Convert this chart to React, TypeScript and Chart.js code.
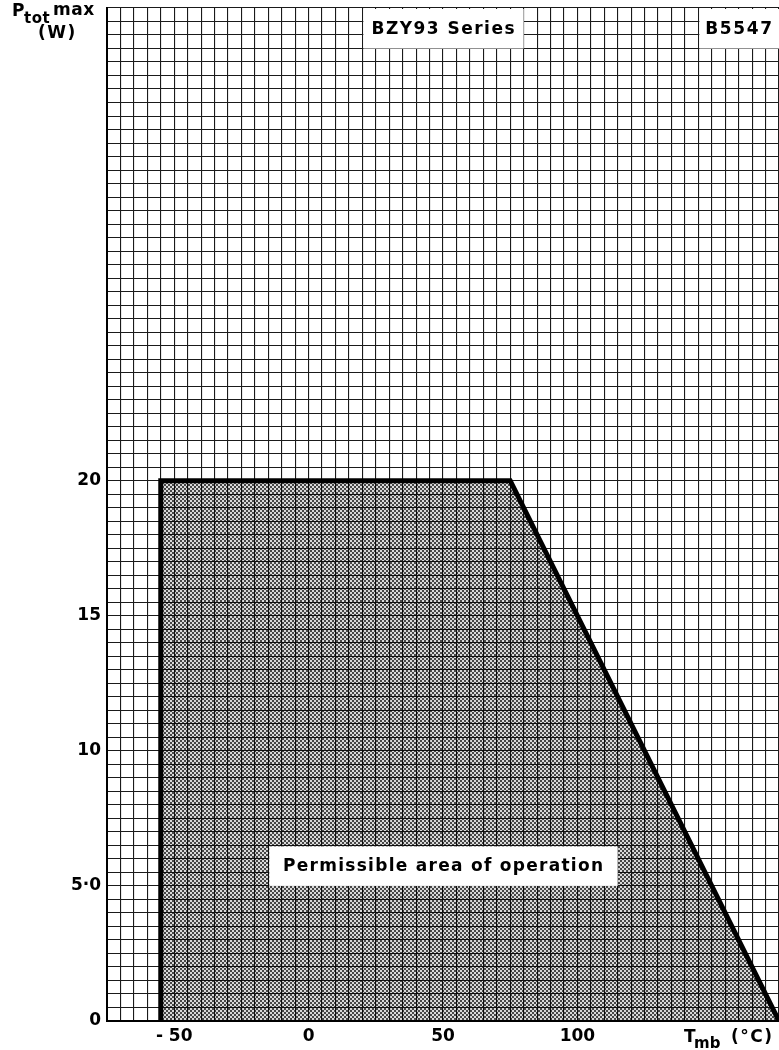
import { useEffect, useRef } from "react";
import { Chart, registerables } from "chart.js";

Chart.register(...registerables);

// Derating curve: mounting-base temperature (°C) vs max total power (W)
const tempC = [-55, -55, 75, 175];
const powerW = [0, 20, 20, 0];

// Axis ranges and tick labels
const xRange = [-75, 175];
const yRange = [0, 37.5];
const xLabelValues = [-50, 0, 50, 100];
const xLabelTexts = ["- 50", "0", "50", "100"];
const yLabelValues = [0, 5, 10, 15, 20];
const yLabelTexts = ["0", "5·0", "10", "15", "20"];

// Text boxes (data coords: x1, x2, y1, y2)
const boxTexts = ["BZY93 Series", "B5547", "Permissible area of operation"];
const boxX1 = [20, 145, -15];
const boxX2 = [80, 175, 115];
const boxY1 = [36, 36, 5];
const boxY2 = [37.5, 37.5, 6.5];
const boxTextWidths = [143, 67, 320];

const FONT = "'DejaVu Sans'";

function fitText(ctx: CanvasRenderingContext2D, text: string, cx: number, cy: number, target: number, size: number) {
  ctx.font = `bold ${size}px ${FONT}`;
  (ctx as any).letterSpacing = "0px";
  const w = ctx.measureText(text).width;
  const n = Math.max(1, text.length - 1);
  const ls = (target - w) / n;
  (ctx as any).letterSpacing = `${ls}px`;
  ctx.textAlign = "left";
  ctx.textBaseline = "middle";
  ctx.fillText(text, cx - target / 2, cy);
  (ctx as any).letterSpacing = "0px";
}

const overlayPlugin = {
  id: "overlay",
  afterDatasetsDraw(chart: any) {
    const ctx: CanvasRenderingContext2D = chart.ctx;
    const xs = chart.scales.x;
    const ys = chart.scales.y;
    ctx.save();
    for (let i = 0; i < boxTexts.length; i++) {
      const l = xs.getPixelForValue(boxX1[i]);
      const r = xs.getPixelForValue(boxX2[i]);
      const t = ys.getPixelForValue(boxY2[i]);
      const b = ys.getPixelForValue(boxY1[i]);
      ctx.fillStyle = "#ffffff";
      ctx.fillRect(l + 1, t + 1, r - l - 1, b - t - 1);
      ctx.fillStyle = "#000000";
      fitText(ctx, boxTexts[i], (l + r) / 2, (t + b) / 2 + 1, boxTextWidths[i], 17);
    }
    ctx.restore();
  },
  afterDraw(chart: any) {
    const ctx: CanvasRenderingContext2D = chart.ctx;
    ctx.save();
    ctx.fillStyle = "#000";
    ctx.textAlign = "left";
    ctx.textBaseline = "alphabetic";
    // Y axis title: P_tot max (W)
    ctx.font = `bold 17px ${FONT}`;
    ctx.fillText("P", 12, 16);
    ctx.font = `bold 15px ${FONT}`;
    (ctx as any).letterSpacing = "0.5px";
    ctx.fillText("tot", 24, 23);
    ctx.font = `bold 17px ${FONT}`;
    (ctx as any).letterSpacing = "0.5px";
    ctx.fillText("max", 53, 15);
    (ctx as any).letterSpacing = "1.5px";
    ctx.fillText("(W)", 38, 38);
    // X axis title: T_mb (°C)
    (ctx as any).letterSpacing = "0px";
    ctx.fillText("T", 684, 1042);
    ctx.font = `bold 15px ${FONT}`;
    ctx.fillText("mb", 694, 1048);
    ctx.font = `bold 17px ${FONT}`;
    (ctx as any).letterSpacing = "1.5px";
    ctx.fillText("(°C)", 731, 1042);
    (ctx as any).letterSpacing = "0px";
    ctx.restore();
  },
};

export default function App() {
  const ref = useRef<HTMLCanvasElement | null>(null);

  useEffect(() => {
    if (!ref.current) return;
    const pc = document.createElement("canvas");
    pc.width = 4;
    pc.height = 4;
    const pctx = pc.getContext("2d")!;
    pctx.fillStyle = "rgba(0,0,0,0.72)";
    pctx.fillRect(0, 0, 2, 2);
    pctx.fillRect(2, 2, 2, 2);
    pctx.fillStyle = "rgba(0,0,0,0.15)";
    pctx.fillRect(2, 0, 2, 2);
    pctx.fillRect(0, 2, 2, 2);
    const pattern = ref.current.getContext("2d")!.createPattern(pc, "repeat")!;

    const chart = new Chart(ref.current, {
      type: "line",
      data: {
        datasets: [
          {
            data: tempC.map((t, i) => ({ x: t, y: powerW[i] })),
            borderColor: "#000",
            borderWidth: 5,
            backgroundColor: pattern as any,
            fill: "origin",
            pointRadius: 0,
            tension: 0,
            borderJoinStyle: "miter",
          },
        ],
      },
      options: {
        animation: false,
        responsive: true,
        maintainAspectRatio: false,
        layout: { padding: { top: 8, left: 0, right: 0, bottom: 0 } },
        plugins: { legend: { display: false }, tooltip: { enabled: false }, title: { display: false } },
        scales: {
          x: {
            type: "linear",
            min: xRange[0],
            max: xRange[1],
            afterFit: (s: any) => {
              s.height = 29;
              s.paddingLeft = 0;
              s.paddingRight = 0;
            },
            ticks: {
              stepSize: 5,
              autoSkip: false,
              maxRotation: 0,
              padding: 5,
              color: "#000",
              font: { family: "DejaVu Sans", size: 17, weight: "bold" },
              callback: (v: any) => {
                const i = xLabelValues.indexOf(Number(v));
                return i >= 0 ? xLabelTexts[i] : "";
              },
            },
            grid: {
              drawTicks: false,
              color: "#1a1a1a",
              lineWidth: 1.1,
            },
            border: { display: true, color: "#000", width: 2 },
          },
          y: {
            type: "linear",
            min: yRange[0],
            max: yRange[1],
            afterFit: (s: any) => {
              s.width = 107;
              s.paddingTop = 0;
              s.paddingBottom = 0;
            },
            ticks: {
              stepSize: 0.5,
              autoSkip: false,
              padding: 6,
              color: "#000",
              font: { family: "DejaVu Sans", size: 17, weight: "bold" },
              callback: (v: any) => {
                const i = yLabelValues.indexOf(Number(v));
                return i >= 0 ? yLabelTexts[i] : "";
              },
            },
            grid: {
              drawTicks: false,
              color: "#1a1a1a",
              lineWidth: 1.1,
            },
            border: { display: true, color: "#000", width: 2 },
          },
        },
      },
      plugins: [overlayPlugin],
    });
    return () => chart.destroy();
  }, []);

  return (
    <div style={{ position: "absolute", left: 0, top: 0, width: 779, height: 1050, background: "#fff" }}>
      <canvas ref={ref} />
    </div>
  );
}
